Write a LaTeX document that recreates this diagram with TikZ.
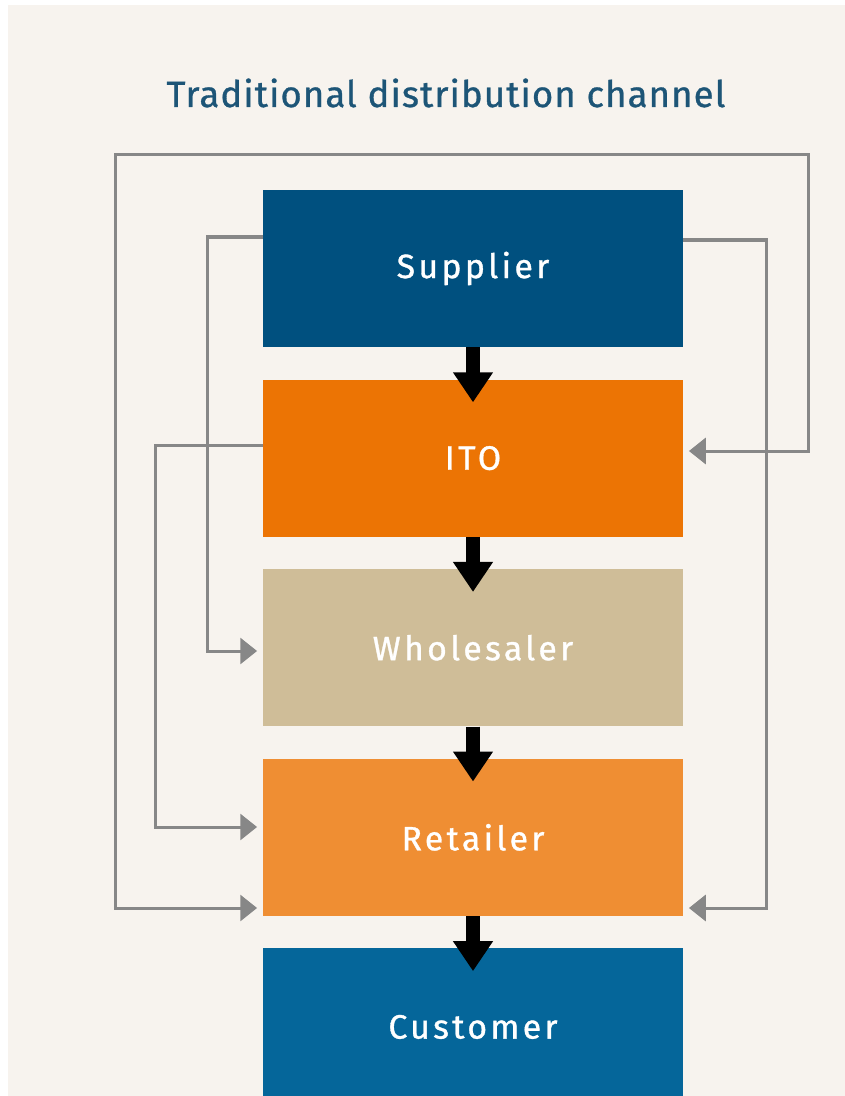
\documentclass[tikz,border=0pt]{standalone}
\usepackage{fontspec}
\setmainfont{Fira Sans}
\newfontfamily\stagefont[LetterSpace=10,FakeBold=1]{Fira Sans}
\newfontfamily\headfont[LetterSpace=3,FakeBold=0.8]{Fira Sans}
\usetikzlibrary{arrows.meta,positioning}
\definecolor{bgcream}{HTML}{F7F3EE}
\definecolor{titleblue}{HTML}{1D5577}
\definecolor{supblue}{HTML}{00507F}
\definecolor{itoorange}{HTML}{EC7404}
\definecolor{whltan}{HTML}{CFBD98}
\definecolor{retorange}{HTML}{EF8E33}
\definecolor{custblue}{HTML}{05669A}
\definecolor{lanegray}{HTML}{878787}
\tikzset{
  % boxes
  stage/.style={rectangle,inner sep=0pt,minimum width=10.5cm,
                minimum height=3.925cm,text=white,
                font=\stagefont\fontsize{24}{28}\selectfont},
  heading/.style={text=titleblue,font=\headfont\fontsize{26}{30}\selectfont},
  % arrows
  flow/.style={draw=black,line width=0.35cm,
               -{Triangle[length=0.75cm,width=0.95cm]}},
  lane/.style={draw=lanegray,line width=0.075cm,
               >={Triangle[length=0.42cm,width=0.65cm]},
               shorten >=0.14cm,shorten <=0.14cm},
}
\begin{document}
\begin{tikzpicture}[x=0.025cm,y=-0.025cm,node distance=0.8cm]
  \path[use as bounding box] (0,0) rectangle (845,1096);
  \clip (0,0) rectangle (845,1096);
  \fill[bgcream] (8,5) rectangle (845,1096);
  \node[heading,anchor=base] (ttl) at (446,107) {Traditional distribution channel};
  \node[stage,fill=supblue] (sup) at (473,268.5) {Supplier};
  \node[stage,fill=itoorange,below=of sup] (ito) {ITO};
  \node[stage,fill=whltan,below=of ito] (whl) {Wholesaler};
  \node[stage,fill=retorange,below=of whl] (ret) {Retailer};
  \node[stage,fill=custblue,below=of ret] (cus) {Customer};
  % main chain
  \draw[flow] (sup.south) -- ([yshift=-0.575cm]ito.north);
  \draw[flow] (ito.south) -- ([yshift=-0.575cm]whl.north);
  \draw[flow] (whl.south) -- ([yshift=-0.575cm]ret.north);
  \draw[flow] (ret.south) -- ([yshift=-0.575cm]cus.north);
  % side lanes
  \coordinate (a1) at (207,237);
  \coordinate (a2) at (207,651);
  \draw[lane,->,shorten <=0pt] (sup.west |- a1) -- (a1) -- (a2) -- (whl.west |- a2);
  \coordinate (b1) at (155,445);
  \coordinate (b2) at (155,827);
  \draw[lane,->,shorten <=0pt] (ito.west |- b1) -- (b1) -- (b2) -- (ret.west |- b2);
  \coordinate (c1) at (766,240);
  \coordinate (c2) at (766,908);
  \draw[lane,->,shorten <=0pt] (sup.east |- c1) -- (c1) -- (c2) -- (ret.east |- c2);
  \coordinate (d1) at (808,451);
  \coordinate (d2) at (808,155);
  \coordinate (d3) at (115,155);
  \coordinate (d4) at (115,908);
  \draw[lane,<->] (ito.east |- d1) -- (d1) -- (d2) -- (d3) -- (d4) -- (ret.west |- d4);
\end{tikzpicture}
\end{document}
